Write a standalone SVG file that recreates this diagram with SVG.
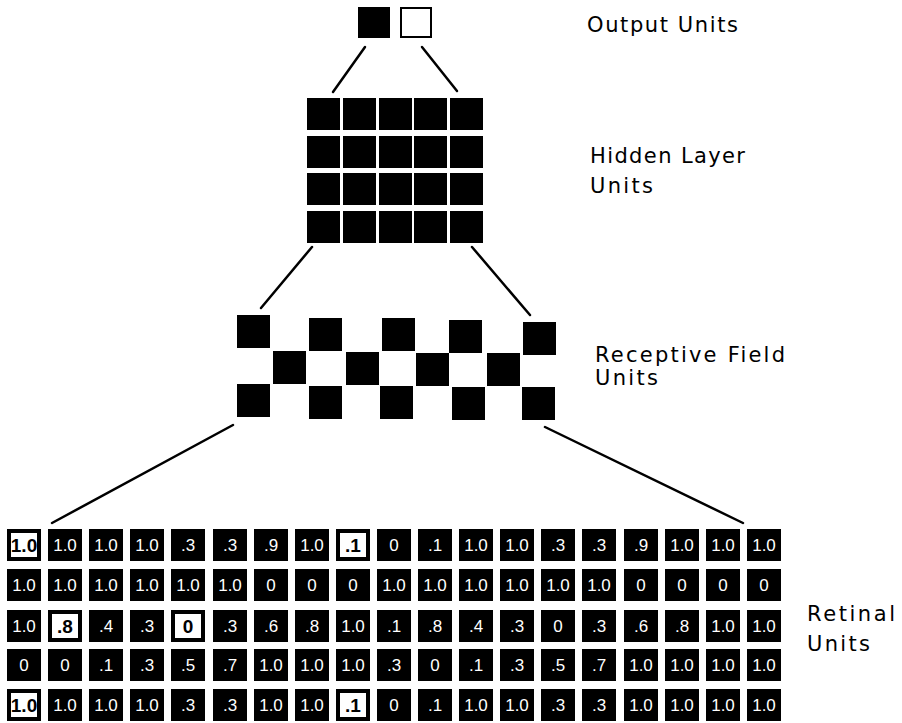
<svg xmlns="http://www.w3.org/2000/svg" xmlns:xlink="http://www.w3.org/1999/xlink" width="902" height="723" viewBox="0 0 902 723">
<style>
.lbl{font-family:"DejaVu Sans","Liberation Sans",sans-serif;font-size:21px;fill:#000}
.t{font-family:"Liberation Sans","DejaVu Sans",sans-serif;font-size:17px;fill:#fff;text-anchor:middle}
.tb{font-family:"Liberation Sans","DejaVu Sans",sans-serif;font-size:19px;font-weight:bold;fill:#000;text-anchor:middle}
.u{fill:#000}
.conn line{stroke:#000;stroke-width:2.5;stroke-linecap:round}
</style>
<defs>
<rect id="bk" width="34" height="32" fill="#000"/>
<rect id="wh" x="2" y="2" width="30" height="28" fill="#fff" stroke="#000" stroke-width="4"/>
<rect id="hu" width="33" height="32" fill="#000"/>
<rect id="rf" width="33" height="33" fill="#000"/>
</defs>
<rect width="902" height="723" fill="#fff"/>

<g class="conn" id="connectors">
<line x1="365" y1="47" x2="333" y2="92"/>
<line x1="422" y1="47" x2="457" y2="91"/>
<line x1="312" y1="247" x2="261" y2="308"/>
<line x1="472" y1="247" x2="530" y2="315"/>
<line x1="233" y1="425" x2="52" y2="523"/>
<line x1="545" y1="427" x2="743" y2="523"/>
</g>

<g id="output-units">
<rect x="358" y="7" width="32" height="31" class="u"/>
<rect x="401" y="8" width="30" height="29" fill="#fff" stroke="#000" stroke-width="2"/>
</g>
<text class="lbl" x="587" y="32" textLength="151" lengthAdjust="spacing">Output Units</text>

<g id="hidden-layer">
<use href="#hu" x="307" y="98"/><use href="#hu" x="343" y="98"/><use href="#hu" x="379" y="98"/><use href="#hu" x="414" y="98"/><use href="#hu" x="450" y="98"/>
<use href="#hu" x="307" y="136"/><use href="#hu" x="343" y="136"/><use href="#hu" x="379" y="136"/><use href="#hu" x="414" y="136"/><use href="#hu" x="450" y="136"/>
<use href="#hu" x="307" y="173"/><use href="#hu" x="343" y="173"/><use href="#hu" x="379" y="173"/><use href="#hu" x="414" y="173"/><use href="#hu" x="450" y="173"/>
<use href="#hu" x="307" y="211"/><use href="#hu" x="343" y="211"/><use href="#hu" x="379" y="211"/><use href="#hu" x="414" y="211"/><use href="#hu" x="450" y="211"/>
</g>
<text class="lbl" x="590" y="163" textLength="155" lengthAdjust="spacing">Hidden Layer</text>
<text class="lbl" x="590" y="193" textLength="63" lengthAdjust="spacing">Units</text>

<g id="receptive-field">
<use href="#rf" x="237" y="315"/><use href="#rf" x="309" y="318"/><use href="#rf" x="382" y="318"/><use href="#rf" x="449" y="320"/><use href="#rf" x="523" y="322"/>
<use href="#rf" x="273" y="351"/><use href="#rf" x="346" y="352"/><use href="#rf" x="416" y="353"/><use href="#rf" x="487" y="353"/>
<use href="#rf" x="237" y="384"/><use href="#rf" x="309" y="386"/><use href="#rf" x="380" y="386"/><use href="#rf" x="452" y="387"/><use href="#rf" x="522" y="387"/>
</g>
<text class="lbl" x="595" y="362" textLength="190" lengthAdjust="spacing">Receptive Field</text>
<text class="lbl" x="595" y="385" textLength="63" lengthAdjust="spacing">Units</text>

<g id="retinal">
<g id="row1" transform="translate(0,529)">
<g transform="translate(7,0)"><use href="#wh"/><text class="tb" x="17" y="23">1.0</text></g>
<g transform="translate(48,0)"><use href="#bk"/><text class="t" x="17" y="22">1.0</text></g>
<g transform="translate(89,0)"><use href="#bk"/><text class="t" x="17" y="22">1.0</text></g>
<g transform="translate(130,0)"><use href="#bk"/><text class="t" x="17" y="22">1.0</text></g>
<g transform="translate(171,0)"><use href="#bk"/><text class="t" x="17" y="22">.3</text></g>
<g transform="translate(213,0)"><use href="#bk"/><text class="t" x="17" y="22">.3</text></g>
<g transform="translate(254,0)"><use href="#bk"/><text class="t" x="17" y="22">.9</text></g>
<g transform="translate(295,0)"><use href="#bk"/><text class="t" x="17" y="22">1.0</text></g>
<g transform="translate(336,0)"><use href="#wh"/><text class="tb" x="17" y="23">.1</text></g>
<g transform="translate(377,0)"><use href="#bk"/><text class="t" x="17" y="22">0</text></g>
<g transform="translate(418,0)"><use href="#bk"/><text class="t" x="17" y="22">.1</text></g>
<g transform="translate(459,0)"><use href="#bk"/><text class="t" x="17" y="22">1.0</text></g>
<g transform="translate(500,0)"><use href="#bk"/><text class="t" x="17" y="22">1.0</text></g>
<g transform="translate(541,0)"><use href="#bk"/><text class="t" x="17" y="22">.3</text></g>
<g transform="translate(582,0)"><use href="#bk"/><text class="t" x="17" y="22">.3</text></g>
<g transform="translate(624,0)"><use href="#bk"/><text class="t" x="17" y="22">.9</text></g>
<g transform="translate(665,0)"><use href="#bk"/><text class="t" x="17" y="22">1.0</text></g>
<g transform="translate(706,0)"><use href="#bk"/><text class="t" x="17" y="22">1.0</text></g>
<g transform="translate(747,0)"><use href="#bk"/><text class="t" x="17" y="22">1.0</text></g>
</g>
<g id="row2" transform="translate(0,569)">
<g transform="translate(7,0)"><use href="#bk"/><text class="t" x="17" y="22">1.0</text></g>
<g transform="translate(48,0)"><use href="#bk"/><text class="t" x="17" y="22">1.0</text></g>
<g transform="translate(89,0)"><use href="#bk"/><text class="t" x="17" y="22">1.0</text></g>
<g transform="translate(130,0)"><use href="#bk"/><text class="t" x="17" y="22">1.0</text></g>
<g transform="translate(171,0)"><use href="#bk"/><text class="t" x="17" y="22">1.0</text></g>
<g transform="translate(213,0)"><use href="#bk"/><text class="t" x="17" y="22">1.0</text></g>
<g transform="translate(254,0)"><use href="#bk"/><text class="t" x="17" y="22">0</text></g>
<g transform="translate(295,0)"><use href="#bk"/><text class="t" x="17" y="22">0</text></g>
<g transform="translate(336,0)"><use href="#bk"/><text class="t" x="17" y="22">0</text></g>
<g transform="translate(377,0)"><use href="#bk"/><text class="t" x="17" y="22">1.0</text></g>
<g transform="translate(418,0)"><use href="#bk"/><text class="t" x="17" y="22">1.0</text></g>
<g transform="translate(459,0)"><use href="#bk"/><text class="t" x="17" y="22">1.0</text></g>
<g transform="translate(500,0)"><use href="#bk"/><text class="t" x="17" y="22">1.0</text></g>
<g transform="translate(541,0)"><use href="#bk"/><text class="t" x="17" y="22">1.0</text></g>
<g transform="translate(582,0)"><use href="#bk"/><text class="t" x="17" y="22">1.0</text></g>
<g transform="translate(624,0)"><use href="#bk"/><text class="t" x="17" y="22">0</text></g>
<g transform="translate(665,0)"><use href="#bk"/><text class="t" x="17" y="22">0</text></g>
<g transform="translate(706,0)"><use href="#bk"/><text class="t" x="17" y="22">0</text></g>
<g transform="translate(747,0)"><use href="#bk"/><text class="t" x="17" y="22">0</text></g>
</g>
<g id="row3" transform="translate(0,610)">
<g transform="translate(7,0)"><use href="#bk"/><text class="t" x="17" y="22">1.0</text></g>
<g transform="translate(48,0)"><use href="#wh"/><text class="tb" x="17" y="23">.8</text></g>
<g transform="translate(89,0)"><use href="#bk"/><text class="t" x="17" y="22">.4</text></g>
<g transform="translate(130,0)"><use href="#bk"/><text class="t" x="17" y="22">.3</text></g>
<g transform="translate(171,0)"><use href="#wh"/><text class="tb" x="17" y="23">0</text></g>
<g transform="translate(213,0)"><use href="#bk"/><text class="t" x="17" y="22">.3</text></g>
<g transform="translate(254,0)"><use href="#bk"/><text class="t" x="17" y="22">.6</text></g>
<g transform="translate(295,0)"><use href="#bk"/><text class="t" x="17" y="22">.8</text></g>
<g transform="translate(336,0)"><use href="#bk"/><text class="t" x="17" y="22">1.0</text></g>
<g transform="translate(377,0)"><use href="#bk"/><text class="t" x="17" y="22">.1</text></g>
<g transform="translate(418,0)"><use href="#bk"/><text class="t" x="17" y="22">.8</text></g>
<g transform="translate(459,0)"><use href="#bk"/><text class="t" x="17" y="22">.4</text></g>
<g transform="translate(500,0)"><use href="#bk"/><text class="t" x="17" y="22">.3</text></g>
<g transform="translate(541,0)"><use href="#bk"/><text class="t" x="17" y="22">0</text></g>
<g transform="translate(582,0)"><use href="#bk"/><text class="t" x="17" y="22">.3</text></g>
<g transform="translate(624,0)"><use href="#bk"/><text class="t" x="17" y="22">.6</text></g>
<g transform="translate(665,0)"><use href="#bk"/><text class="t" x="17" y="22">.8</text></g>
<g transform="translate(706,0)"><use href="#bk"/><text class="t" x="17" y="22">1.0</text></g>
<g transform="translate(747,0)"><use href="#bk"/><text class="t" x="17" y="22">1.0</text></g>
</g>
<g id="row4" transform="translate(0,649)">
<g transform="translate(7,0)"><use href="#bk"/><text class="t" x="17" y="22">0</text></g>
<g transform="translate(48,0)"><use href="#bk"/><text class="t" x="17" y="22">0</text></g>
<g transform="translate(89,0)"><use href="#bk"/><text class="t" x="17" y="22">.1</text></g>
<g transform="translate(130,0)"><use href="#bk"/><text class="t" x="17" y="22">.3</text></g>
<g transform="translate(171,0)"><use href="#bk"/><text class="t" x="17" y="22">.5</text></g>
<g transform="translate(213,0)"><use href="#bk"/><text class="t" x="17" y="22">.7</text></g>
<g transform="translate(254,0)"><use href="#bk"/><text class="t" x="17" y="22">1.0</text></g>
<g transform="translate(295,0)"><use href="#bk"/><text class="t" x="17" y="22">1.0</text></g>
<g transform="translate(336,0)"><use href="#bk"/><text class="t" x="17" y="22">1.0</text></g>
<g transform="translate(377,0)"><use href="#bk"/><text class="t" x="17" y="22">.3</text></g>
<g transform="translate(418,0)"><use href="#bk"/><text class="t" x="17" y="22">0</text></g>
<g transform="translate(459,0)"><use href="#bk"/><text class="t" x="17" y="22">.1</text></g>
<g transform="translate(500,0)"><use href="#bk"/><text class="t" x="17" y="22">.3</text></g>
<g transform="translate(541,0)"><use href="#bk"/><text class="t" x="17" y="22">.5</text></g>
<g transform="translate(582,0)"><use href="#bk"/><text class="t" x="17" y="22">.7</text></g>
<g transform="translate(624,0)"><use href="#bk"/><text class="t" x="17" y="22">1.0</text></g>
<g transform="translate(665,0)"><use href="#bk"/><text class="t" x="17" y="22">1.0</text></g>
<g transform="translate(706,0)"><use href="#bk"/><text class="t" x="17" y="22">1.0</text></g>
<g transform="translate(747,0)"><use href="#bk"/><text class="t" x="17" y="22">1.0</text></g>
</g>
<g id="row5" transform="translate(0,689)">
<g transform="translate(7,0)"><use href="#wh"/><text class="tb" x="17" y="23">1.0</text></g>
<g transform="translate(48,0)"><use href="#bk"/><text class="t" x="17" y="22">1.0</text></g>
<g transform="translate(89,0)"><use href="#bk"/><text class="t" x="17" y="22">1.0</text></g>
<g transform="translate(130,0)"><use href="#bk"/><text class="t" x="17" y="22">1.0</text></g>
<g transform="translate(171,0)"><use href="#bk"/><text class="t" x="17" y="22">.3</text></g>
<g transform="translate(213,0)"><use href="#bk"/><text class="t" x="17" y="22">.3</text></g>
<g transform="translate(254,0)"><use href="#bk"/><text class="t" x="17" y="22">1.0</text></g>
<g transform="translate(295,0)"><use href="#bk"/><text class="t" x="17" y="22">1.0</text></g>
<g transform="translate(336,0)"><use href="#wh"/><text class="tb" x="17" y="23">.1</text></g>
<g transform="translate(377,0)"><use href="#bk"/><text class="t" x="17" y="22">0</text></g>
<g transform="translate(418,0)"><use href="#bk"/><text class="t" x="17" y="22">.1</text></g>
<g transform="translate(459,0)"><use href="#bk"/><text class="t" x="17" y="22">1.0</text></g>
<g transform="translate(500,0)"><use href="#bk"/><text class="t" x="17" y="22">1.0</text></g>
<g transform="translate(541,0)"><use href="#bk"/><text class="t" x="17" y="22">.3</text></g>
<g transform="translate(582,0)"><use href="#bk"/><text class="t" x="17" y="22">.3</text></g>
<g transform="translate(624,0)"><use href="#bk"/><text class="t" x="17" y="22">1.0</text></g>
<g transform="translate(665,0)"><use href="#bk"/><text class="t" x="17" y="22">1.0</text></g>
<g transform="translate(706,0)"><use href="#bk"/><text class="t" x="17" y="22">1.0</text></g>
<g transform="translate(747,0)"><use href="#bk"/><text class="t" x="17" y="22">1.0</text></g>
</g>
</g>
<text class="lbl" x="807" y="621" textLength="88" lengthAdjust="spacing">Retinal</text>
<text class="lbl" x="807" y="651" textLength="63" lengthAdjust="spacing">Units</text>
</svg>
